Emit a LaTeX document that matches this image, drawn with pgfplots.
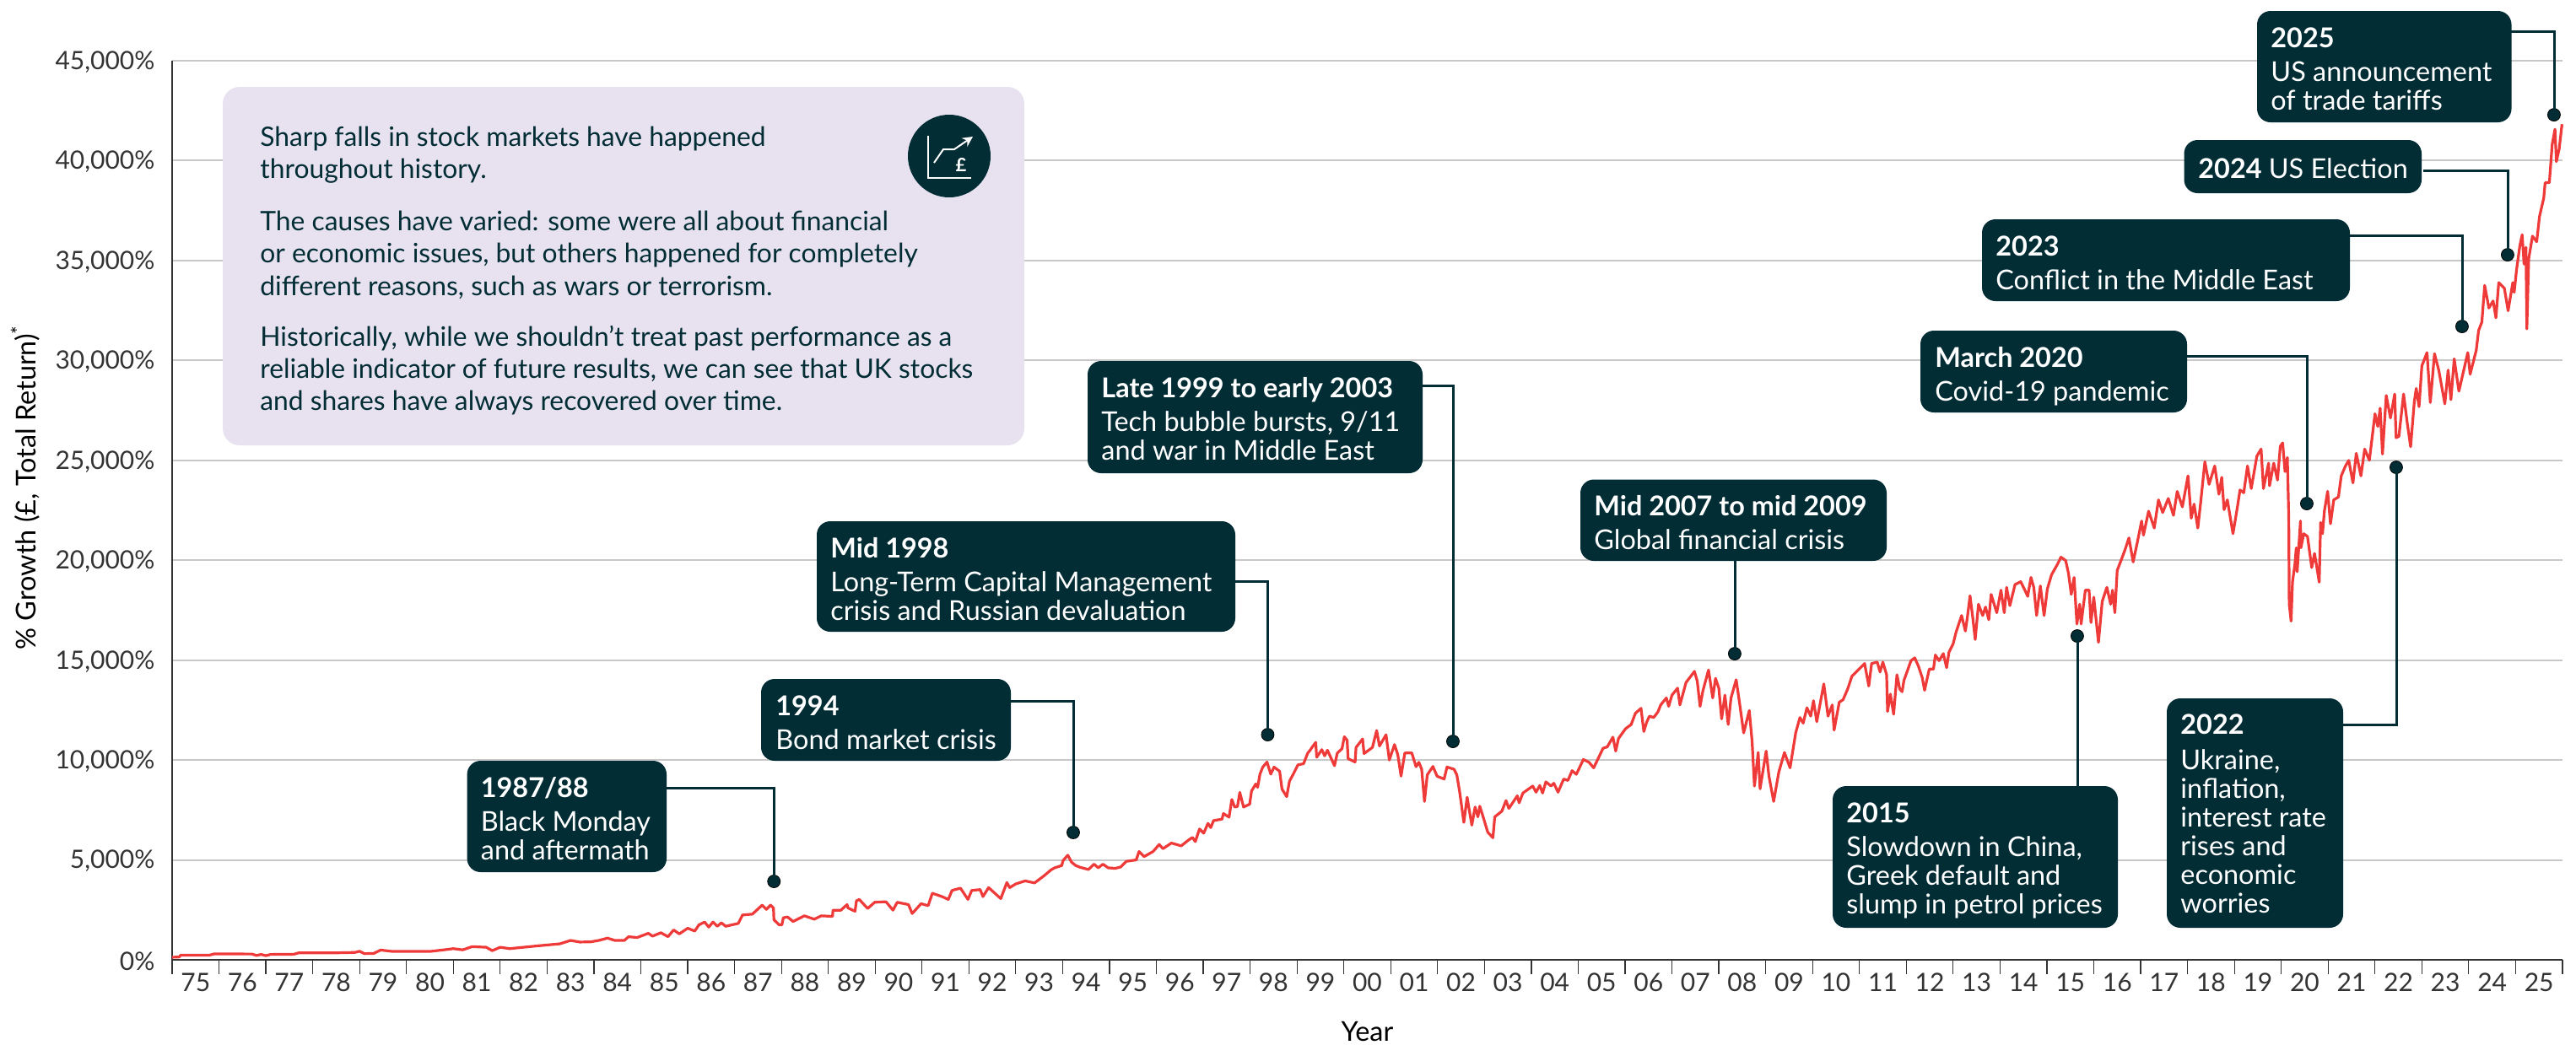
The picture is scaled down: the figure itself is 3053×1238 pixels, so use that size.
\documentclass[border=0pt]{standalone}
\usepackage{pgfplots}
\pgfplotsset{compat=1.18}
\usepackage{pgfplotstable}
\usepackage{fontspec}
\setmainfont{Lato}
\usetikzlibrary{arrows.meta}
\definecolor{boxc}{HTML}{022D35}
\definecolor{redc}{HTML}{EF3A3A}
\definecolor{gridc}{HTML}{C8C8C8}
\definecolor{lilac}{HTML}{E8E2F0}
\definecolor{axisc}{HTML}{333333}
\pgfplotstableread{
year value
1975.0 130
1975.15 140
1975.18 230
1975.8 235
1975.9 300
1976.7 290
1976.8 220
1976.9 270
1977.0 210
1977.1 270
1977.6 280
1977.7 350
1978.5 350
1978.9 370
1979.0 430
1979.1 310
1979.3 320
1979.45 490
1979.7 420
1980.5 420
1980.8 500
1981.0 560
1981.2 500
1981.4 660
1981.7 630
1981.83 460
1982.0 630
1982.2 560
1982.8 700
1983.27 800
1983.5 970
1983.7 890
1983.93 900
1984.11 975
1984.29 1087
1984.44 975
1984.65 975
1984.74 1158
1984.92 1115
1985.16 1327
1985.25 1186
1985.43 1355
1985.58 1158
1985.7 1497
1985.82 1299
1986.0 1581
1986.15 1440
1986.24 1751
1986.36 1892
1986.45 1638
1986.54 1892
1986.63 1680
1986.72 1850
1986.81 1680
1987.08 1822
1987.17 2245
1987.38 2287
1987.59 2739
1987.68 2527
1987.77 2739
1987.83 2598
1987.84 2005
1987.95 1751
1988.01 1751
1988.04 2104
1988.13 2146
1988.25 1920
1988.49 2203
1988.7 2033
1988.85 2203
1989.09 2174
1989.1 2485
1989.27 2485
1989.4 2767
1989.42 2598
1989.57 2429
1989.6 2951
1989.66 3022
1989.84 2570
1989.99 2880
1990.23 2909
1990.38 2485
1990.47 2880
1990.71 2767
1990.79 2316
1990.98 2810
1991.13 2711
1991.22 3332
1991.43 3163
1991.56 3022
1991.64 3474
1991.82 3586
1991.98 3022
1992.06 3474
1992.24 3516
1992.3 3163
1992.42 3615
1992.68 3064
1992.81 3869
1992.87 3615
1993.0 3800
1993.2 3950
1993.4 3850
1993.6 4200
1993.75 4500
1993.83 4606
1993.98 4718
1994.01 4972
1994.11 5239
1994.19 4887
1994.28 4718
1994.37 4634
1994.55 4520
1994.67 4789
1994.76 4606
1994.86 4789
1994.97 4606
1995.12 4578
1995.24 4648
1995.36 4930
1995.57 5000
1995.63 5422
1995.74 5169
1995.93 5422
1996.06 5774
1996.14 5563
1996.32 5845
1996.53 5704
1996.68 5986
1996.77 6126
1996.83 5915
1996.92 6549
1997.01 6338
1997.1 6830
1997.16 6619
1997.22 6971
1997.4 7042
1997.43 7323
1997.55 7140
1997.61 8027
1997.67 7647
1997.73 7675
1997.78 8379
1997.86 7647
1997.99 7788
1998.03 8450
1998.12 8802
1998.16 8633
1998.21 9294
1998.27 9646
1998.36 9900
1998.44 9294
1998.51 9646
1998.63 9435
1998.68 8548
1998.78 8168
1998.84 8942
1998.93 9337
1999.02 9759
1999.14 9815
1999.23 10350
1999.28 10491
1999.32 10632
1999.4 10885
1999.42 10139
1999.53 10520
1999.59 10210
1999.65 10491
1999.8 9717
1999.86 10350
1999.96 10562
2000.01 11167
2000.07 10984
2000.09 10069
2000.24 9900
2000.26 10632
2000.4 11054
2000.43 10322
2000.61 10632
2000.7 11477
2000.76 10703
2000.9 11265
2000.97 10000
2001.08 10773
2001.15 10280
2001.22 9196
2001.3 10350
2001.45 10350
2001.54 9665
2001.6 9888
2001.66 9538
2001.72 7928
2001.78 9258
2001.9 9678
2001.99 9188
2002.14 9048
2002.2 9650
2002.35 9538
2002.41 9258
2002.47 8418
2002.56 6878
2002.63 8138
2002.73 6738
2002.8 7648
2002.86 7158
2002.9 7690
2002.98 7088
2003.07 6388
2003.18 6108
2003.22 7158
2003.37 7438
2003.46 7970
2003.52 7578
2003.7 8208
2003.74 7858
2003.82 8348
2004.03 8698
2004.1 8390
2004.18 8726
2004.24 8348
2004.31 8908
2004.42 8698
2004.48 8838
2004.57 8390
2004.69 9048
2004.78 8978
2004.87 9468
2004.96 9286
2005.11 10028
2005.23 9888
2005.33 9608
2005.53 10588
2005.62 10658
2005.74 11148
2005.8 10448
2005.86 11078
2006.01 11568
2006.13 11778
2006.22 12338
2006.34 12590
2006.4 11428
2006.46 11890
2006.52 12198
2006.61 12128
2006.7 12408
2006.76 12758
2006.88 13108
2006.93 12688
2007.0 13248
2007.12 13598
2007.17 12758
2007.3 13878
2007.48 14438
2007.54 13948
2007.6 12688
2007.66 13458
2007.78 14508
2007.87 13108
2007.93 14088
2008.0 13598
2008.06 12058
2008.13 13248
2008.2 11778
2008.26 13108
2008.37 14018
2008.44 12898
2008.53 11358
2008.65 12478
2008.71 10938
2008.76 8698
2008.84 10378
2008.88 8558
2009.01 10448
2009.07 9188
2009.17 7928
2009.28 9398
2009.4 10378
2009.52 9608
2009.64 11358
2009.73 12128
2009.8 11848
2009.88 12618
2009.96 12198
2010.02 12968
2010.09 11918
2010.24 13808
2010.33 12198
2010.42 12758
2010.46 11498
2010.57 12898
2010.65 13015
2010.75 13561
2010.84 14197
2010.93 14408
2011.02 14620
2011.11 14832
2011.2 13703
2011.26 14832
2011.38 14902
2011.44 14408
2011.5 14902
2011.58 14267
2011.6 12430
2011.66 13300
2011.73 12290
2011.8 14267
2011.86 13560
2011.91 13420
2011.95 13985
2012.1 14973
2012.18 15115
2012.26 14690
2012.34 14126
2012.39 13490
2012.49 14550
2012.58 14550
2012.62 15256
2012.7 14973
2012.79 15326
2012.86 14620
2012.91 15397
2013.0 15820
2013.06 16385
2013.18 17232
2013.26 16456
2013.3 17091
2013.36 18221
2013.42 17091
2013.47 16032
2013.54 17797
2013.63 17232
2013.69 17656
2013.76 17021
2013.81 18291
2013.93 17374
2014.02 18503
2014.09 17374
2014.14 18644
2014.21 17727
2014.32 18785
2014.44 18927
2014.53 18503
2014.59 18193
2014.66 19139
2014.72 18644
2014.78 17232
2014.86 18715
2014.94 17232
2015.01 18574
2015.1 19280
2015.22 19774
2015.3 20155
2015.4 19986
2015.46 19350
2015.52 18291
2015.58 19139
2015.64 16809
2015.7 17797
2015.73 16809
2015.82 18503
2015.9 18503
2015.94 16879
2016.0 18150
2016.1 15891
2016.18 17938
2016.28 18644
2016.36 17797
2016.4 18503
2016.45 17374
2016.5 19492
2016.57 19915
2016.66 20480
2016.75 21115
2016.84 19915
2016.93 20904
2017.02 21963
2017.06 21257
2017.17 22457
2017.29 21610
2017.38 23022
2017.47 22386
2017.59 23092
2017.7 22245
2017.78 23445
2017.89 22669
2018.01 24222
2018.08 22104
2018.14 22810
2018.22 21610
2018.28 22881
2018.37 24928
2018.46 23798
2018.58 24716
2018.67 23304
2018.73 24151
2018.78 22528
2018.85 23023
2018.97 21329
2019.06 22600
2019.12 23517
2019.2 23376
2019.28 24718
2019.36 23588
2019.48 25212
2019.57 25565
2019.62 23588
2019.73 24859
2019.75 23729
2019.84 24859
2019.92 24012
2019.98 25706
2020.03 25875
2020.08 24435
2020.13 25141
2020.16 22176
2020.17 17799
2020.21 16952
2020.24 18928
2020.29 19776
2020.32 20623
2020.34 19424
2020.41 21964
2020.42 20623
2020.48 21329
2020.56 21188
2020.65 19634
2020.71 20340
2020.76 19634
2020.81 18900
2020.84 21894
2020.88 21329
2020.92 22458
2020.99 23447
2021.05 21823
2021.12 23023
2021.22 23164
2021.28 24223
2021.37 24718
2021.44 25000
2021.53 23870
2021.6 25353
2021.7 24223
2021.78 25565
2021.88 25000
2022.0 27330
2022.06 26694
2022.11 27612
2022.16 25311
2022.24 28248
2022.33 27118
2022.42 28318
2022.45 26130
2022.51 26200
2022.61 28318
2022.69 26836
2022.76 25678
2022.84 27965
2022.88 28600
2022.94 27683
2023.0 29730
2023.11 30394
2023.18 27895
2023.27 30337
2023.36 29518
2023.49 27824
2023.56 29518
2023.62 28036
2023.69 30083
2023.79 28460
2023.98 30394
2024.03 29307
2024.16 30507
2024.21 31495
2024.28 31919
2024.34 33754
2024.43 32625
2024.52 32978
2024.58 32131
2024.64 33896
2024.76 33613
2024.84 32484
2024.94 33896
2024.97 33410
2025.02 34536
2025.09 35732
2025.14 36294
2025.18 34817
2025.22 35661
2025.24 31581
2025.28 35098
2025.36 36224
2025.45 35942
2025.51 37209
2025.6 38124
2025.63 38897
2025.72 38897
2025.78 40797
2025.84 41571
2025.87 39953
2025.93 40586
2025.99 41824
}\growth
\newcommand\callout[7]{%
  \fill[boxc,rounded corners=8pt] (#1,#2) rectangle (#3,#4);
  \node[anchor=base west,inner sep=0pt,text=white] at (#5,#6) {#7};
}
\newcommand\txt{\fontsize{16.2}{19}\selectfont}
\newcommand\panelf{\fontsize{15.9}{19}\selectfont}
\newcommand\tickf{\fontsize{15}{18}\selectfont}
\begin{document}
\begin{tikzpicture}[x=0.5pt,y=-0.5pt,every node/.append style={font=\txt}]
\useasboundingbox (0,0) rectangle (3053,1238);
\begin{axis}[
  at={(102pt,-569pt)},anchor=south west,
  scale only axis,width=1416.5pt,height=533pt,
  xmin=1975,xmax=2026,ymin=0,ymax=45000,
  clip=false,
  scaled y ticks=false,
  axis x line=bottom,axis y line=left,
  axis line style={-,line width=1pt,color=axisc},
  xtick={1975,1976,...,2026},
  x tick label as interval,
  xticklabels={75,76,77,78,79,80,81,82,83,84,85,86,87,88,89,90,91,92,93,94,95,96,97,98,99,00,01,02,03,04,05,06,07,08,09,10,11,12,13,14,15,16,17,18,19,20,21,22,23,24,25},
  ytick={0,5000,...,45000},
  yticklabels={{0\%},{5,000\%},{10,000\%},{15,000\%},{20,000\%},{25,000\%},{30,000\%},{35,000\%},{40,000\%},{45,000\%}},
  ymajorgrids,
  grid style={gridc,line width=1pt},
  ytick style={draw=none},
  xtick style={axisc,line width=0.6pt},
  tick align=outside,
  x tick style={/pgfplots/major tick length=8.5pt},
  tick label style={font=\tickf,text=axisc},
  yticklabel style={xshift=-2.5pt,yshift=-0.75pt},
  xlabel={Year},ylabel={\% Growth (£, Total Return)\textsuperscript{*}},
  label style={font=\tickf,text=axisc},
  every axis x label/.style={at={(axis description cs:0.5,0)},anchor=center,yshift=-42.5pt},
  every axis y label/.style={at={(axis description cs:-0.0614,0.5255)},anchor=center,rotate=90},
]
\addplot[redc,line width=1.6pt,line join=round] table[x=year,y=value] {\growth};
\addplot[only marks,mark=*,mark size=3.75pt,mark options={fill=boxc,draw=none}] coordinates {
(1987.84,3926) (1994.226,6374) (1998.375,11270) (2002.327,10932) (2008.339,15322)
(2015.648,16209) (2022.453,24651) (2020.545,22836) (2023.857,31700) (2024.829,35288) (2025.819,42294)};
\end{axis}
% lilac panel
\fill[lilac,rounded corners=10pt] (264,103) rectangle (1214,528);
\begin{scope}[every node/.append style={anchor=base west,inner sep=0pt,text=boxc,font=\panelf,yshift=-1.5pt}]
\node at (308,170) {Sharp falls in stock markets have happened};
\node at (308,208) {throughout history.};
\node at (308,270) {The causes have varied: some were all about financial};
\node at (308,308) {or economic issues, but others happened for completely};
\node at (308,347) {different reasons, such as wars or terrorism.};
\node at (308,407) {Historically, while we shouldn’t treat past performance as a};
\node at (308,445) {reliable indicator of future results, we can see that UK stocks};
\node at (308,483) {and shares have always recovered over time.};
\end{scope}
% icon
\fill[boxc] (1125,185) circle[radius=49];
\draw[white,line width=1pt] (1100,161) -- (1100,211) -- (1151,211);
\draw[white,line width=1pt,-{Stealth[length=6pt,width=6pt]}] (1107,193) -- (1118,177) -- (1131,177) -- (1153,162);
\node[text=white,font=\fontsize{11}{11}\selectfont\bfseries,inner sep=0pt] at (1139,195) {£};
% leaders
\begin{scope}[boxc,line width=1.5pt]
\draw (780,934) -- (917,934) -- (917,1045);
\draw (1190,831) -- (1272,831) -- (1272,987);
\draw (1455,689) -- (1502.5,689) -- (1502.5,871);
\draw (1680,457) -- (1722,457) -- (1722,879);
\draw (2056,660) -- (2056,775);
\draw (2462,940) -- (2462,754);
\draw (2770,859) -- (2840,859) -- (2840,554);
\draw (2585,422) -- (2734,422) -- (2734,597);
\draw (2780,279) -- (2918,279) -- (2918,387);
\draw (2872,202) -- (2972,202) -- (2972,302);
\draw (2970,37) -- (3027,37) -- (3027,136);
\end{scope}
% callouts
\begin{scope}[every node/.append style={yshift=-1.25pt}]
\callout{553.6}{902}{790}{1034}{569.5}{943}{\textbf{1987/88}}
\node[anchor=base west,inner sep=0pt,text=white] at (569.5,983) {Black Monday};
\node[anchor=base west,inner sep=0pt,text=white] at (569.5,1017) {and aftermath};
\callout{902}{805}{1198}{902}{919}{846}{\textbf{1994}}
\node[anchor=base west,inner sep=0pt,text=white] at (919,886) {Bond market crisis};
\callout{968}{618}{1464}{749}{984}{659}{\textbf{Mid 1998}}
\node[anchor=base west,inner sep=0pt,text=white] at (984,699) {Long-Term Capital Management};
\node[anchor=base west,inner sep=0pt,text=white] at (984,733) {crisis and Russian devaluation};
\callout{1289}{428}{1686}{561}{1305}{469}{\textbf{Late 1999 to early 2003}}
\node[anchor=base west,inner sep=0pt,text=white] at (1305,509) {Tech bubble bursts, 9/11};
\node[anchor=base west,inner sep=0pt,text=white] at (1305,543) {and war in Middle East};
\callout{1873}{568.5}{2236}{665}{1889}{609}{\textbf{Mid 2007 to mid 2009}}
\node[anchor=base west,inner sep=0pt,text=white] at (1889,649) {Global financial crisis};
\callout{2172}{932}{2510}{1100}{2188}{973}{\textbf{2015}}
\node[anchor=base west,inner sep=0pt,text=white] at (2188,1013) {Slowdown in China,};
\node[anchor=base west,inner sep=0pt,text=white] at (2188,1047) {Greek default and};
\node[anchor=base west,inner sep=0pt,text=white] at (2188,1081) {slump in petrol prices};
\callout{2568}{828}{2777}{1100}{2584}{868}{\textbf{2022}}
\node[anchor=base west,inner sep=0pt,text=white] at (2584,910) {Ukraine,};
\node[anchor=base west,inner sep=0pt,text=white] at (2584,944) {inflation,};
\node[anchor=base west,inner sep=0pt,text=white] at (2584,978) {interest rate};
\node[anchor=base west,inner sep=0pt,text=white] at (2584,1012) {rises and};
\node[anchor=base west,inner sep=0pt,text=white] at (2584,1046) {economic};
\node[anchor=base west,inner sep=0pt,text=white] at (2584,1080) {worries};
\callout{2276}{392}{2592}{489}{2293}{433}{\textbf{March 2020}}
\node[anchor=base west,inner sep=0pt,text=white] at (2293,473) {Covid-19 pandemic};
\callout{2349}{260}{2785}{357}{2365}{301}{\textbf{2023}}
\node[anchor=base west,inner sep=0pt,text=white] at (2365,341) {Conflict in the Middle East};
\callout{2588.5}{166}{2870}{229}{2605}{209}{\textbf{2024} US Election}
\callout{2675}{13}{2976.5}{145}{2691}{54}{\textbf{2025}}
\node[anchor=base west,inner sep=0pt,text=white] at (2691,94) {US announcement};
\node[anchor=base west,inner sep=0pt,text=white] at (2691,128) {of trade tariffs};
\end{scope}
\end{tikzpicture}
\end{document}
